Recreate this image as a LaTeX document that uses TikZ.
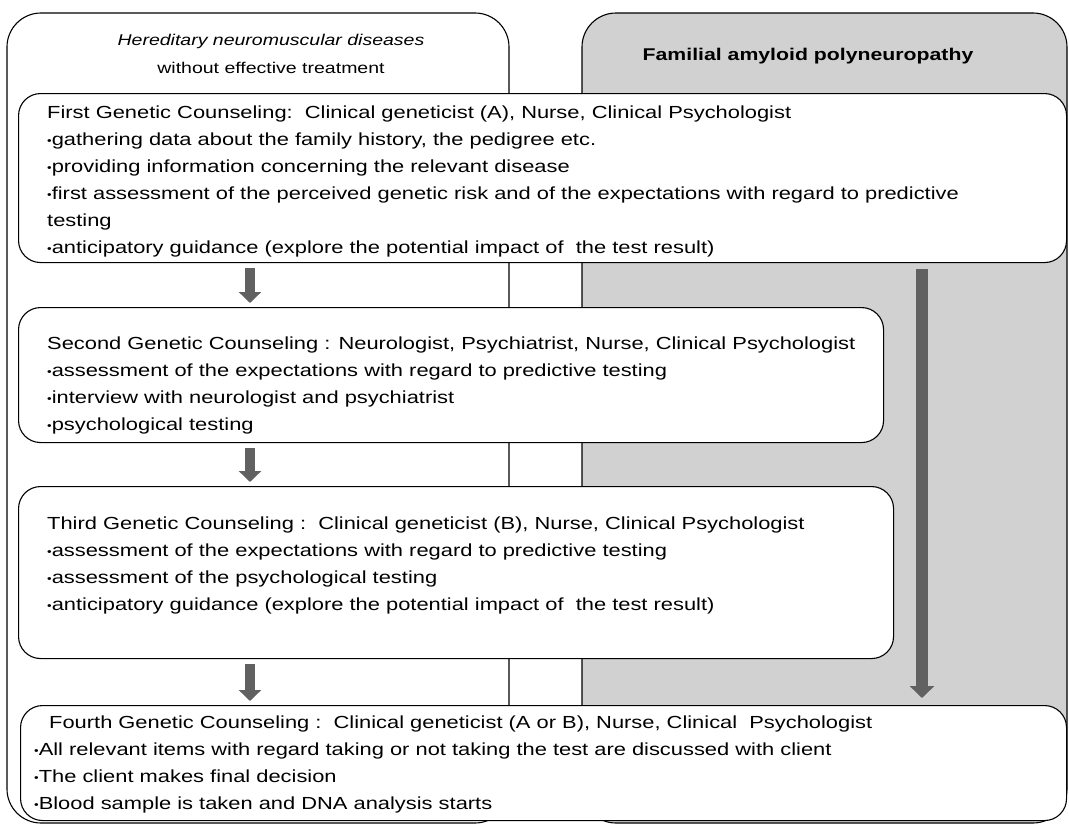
\documentclass[tikz,border=0pt]{standalone}
\usepackage{fontspec}
\setmainfont{Liberation Sans}[FakeStretch=1.25]
\usetikzlibrary{arrows.meta,positioning}
\definecolor{fapgray}{gray}{0.82}
\definecolor{arrowgray}{gray}{0.38}
\newcommand{\bul}{\raisebox{1pt}{\scalebox{0.6}{•}}}

\begin{document}
\begin{tikzpicture}[x=1pt,y=-1pt,
    column/.style={draw,line width=1.1pt,rounded corners=34pt},
    counsel/.style={draw,fill=white,line width=1.1pt,rounded corners=22pt,
                    anchor=north west,inner sep=0pt},
    info/.style={anchor=north west,align=left,inner sep=0pt,
                 font=\fontsize{17.5}{27}\selectfont},
    heading/.style={align=center,font=\fontsize{15.6}{28}\selectfont},
    down/.style={arrowgray,line width=10pt,-{Triangle[width=22pt,length=11pt]},
                 shorten <=5pt,shorten >=4pt}]

  \useasboundingbox (0,0) rectangle (1069,827);

  \draw[column,fill=fapgray] (582,13) rectangle (1067,823);
  \draw[column]              (7,13)   rectangle (509,823);

  \node[heading] (hered) at (271,54)
       {{\itshape Hereditary neuromuscular diseases}\\without effective treatment};
  \node[heading,font=\fontsize{17}{20}\selectfont\bfseries] (famil) at (808,56)
       {Familial amyloid polyneuropathy};

  \node[counsel,minimum width=1048pt,minimum height=169pt] (gc1) at (18,93)  {};
  \node[counsel,minimum width=865pt, minimum height=135pt] (gc2) at (18,307) {};
  \node[counsel,minimum width=875pt, minimum height=172pt] (gc3) at (18,486) {};
  \node[counsel,minimum width=1046pt,minimum height=115pt] (gc4) at (20,705) {};

  \node[info,below right=13pt and 29pt of gc1.north west] (t1)
       {First Genetic Counseling:\ \ Clinical geneticist (A), Nurse, Clinical Psychologist\\
        \bul gathering data about the family history, the pedigree etc.\\
        \bul providing information concerning the relevant disease\\
        \bul first assessment of the perceived genetic risk and of the expectations with regard to predictive\\
        testing\\
        \bul anticipatory guidance (explore the potential impact of\ \ the test result)};
  \node[info,below right=30pt and 29pt of gc2.north west] (t2)
       {Second Genetic Counseling : Neurologist, Psychiatrist, Nurse, Clinical Psychologist\\
        \bul assessment of the expectations with regard to predictive testing\\
        \bul interview with neurologist and psychiatrist\\
        \bul psychological testing};
  \node[info,below right=31pt and 29pt of gc3.north west] (t3)
       {Third Genetic Counseling :\ \ Clinical geneticist (B), Nurse, Clinical Psychologist\\
        \bul assessment of the expectations with regard to predictive testing\\
        \bul assessment of the psychological testing\\
        \bul anticipatory guidance (explore the potential impact of\ \ the test result)};
  \node[info,below right=11pt and 14pt of gc4.north west] (t4)
       {\hspace*{15pt}Fourth Genetic Counseling :\ \ Clinical geneticist (A or B), Nurse, Clinical\ \ Psychologist\\
        \bul All relevant items with regard taking or not taking the test are discussed with client\\
        \bul The client makes final decision\\
        \bul Blood sample is taken and DNA analysis starts};

  \coordinate (lx) at (250,0);
  \coordinate (rx) at (922,0);
  \draw[down] (gc1.south -| lx) -- (gc2.north -| lx);
  \draw[down] (gc2.south -| lx) -- (gc3.north -| lx);
  \draw[down] (gc3.south -| lx) -- (gc4.north -| lx);
  \draw[down,line width=12pt,-{Triangle[width=24pt,length=12pt]},shorten <=6pt,shorten >=7pt]
       (gc1.south -| rx) -- (gc4.north -| rx);
\end{tikzpicture}
\end{document}
